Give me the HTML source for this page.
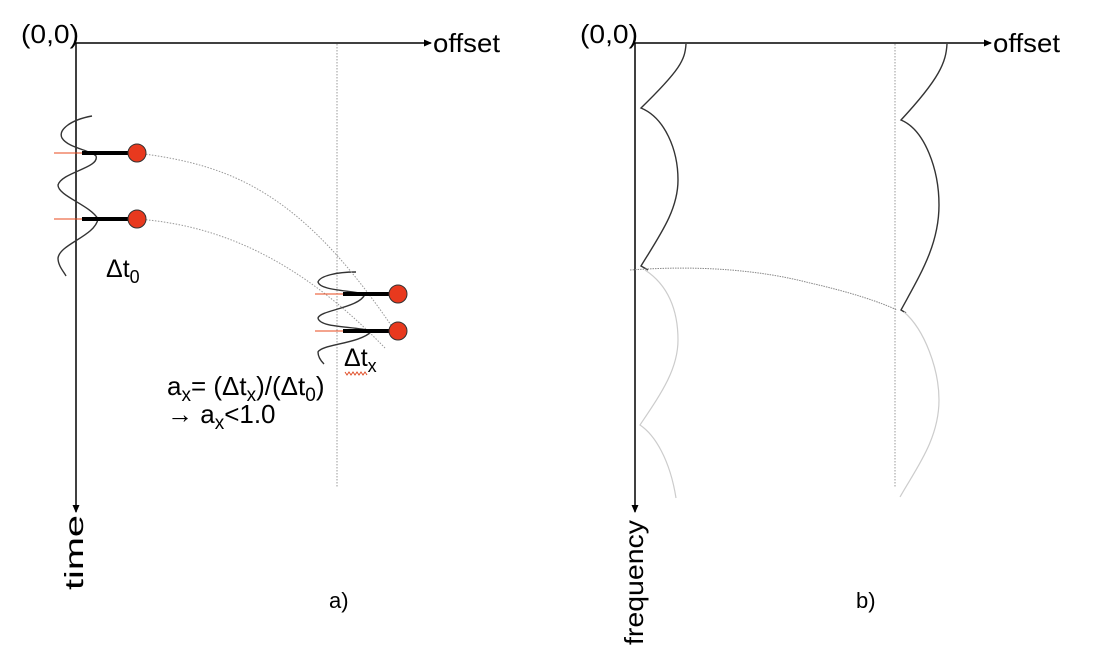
<!DOCTYPE html>
<html>
<head>
<meta charset="utf-8">
<style>
html,body{margin:0;padding:0;background:#fff;}
svg{display:block;font-family:"Liberation Sans",Arial,sans-serif;}
</style>
</head>
<body>
<svg id="fig" width="1100" height="660" viewBox="0 0 1100 660">
<defs>
<marker id="arr" markerWidth="8" markerHeight="8" refX="7" refY="4" orient="auto" markerUnits="userSpaceOnUse">
<path d="M0,0.5 L8,4 L0,7.5 Z" fill="#000"/>
</marker>
</defs>

<!-- Panel a -->
<g>
<text x="21" y="43" font-size="26" textLength="58" lengthAdjust="spacingAndGlyphs">(0,0)</text>
<line x1="75" y1="43" x2="431" y2="43" stroke="#000" stroke-width="1.5" marker-end="url(#arr)"/>
<text x="433" y="52" font-size="26" textLength="67" lengthAdjust="spacingAndGlyphs">offset</text>
<line x1="76" y1="43" x2="76" y2="512" stroke="#000" stroke-width="1.5" marker-end="url(#arr)"/>
<text transform="translate(83,590) rotate(-90)" font-size="26" textLength="75" lengthAdjust="spacingAndGlyphs">time</text>
<line x1="337" y1="44" x2="337" y2="488" stroke="#999" stroke-width="1" stroke-dasharray="1.5,1.5"/>

<path d="M92,116 C70,120 58,130 62,138 C68,148 90,150 96,156 C100,168 62,172 58,185 C58,196 90,205 98,219 C95,236 60,244 58,258 C58,266 64,272 66,276" fill="none" stroke="#333" stroke-width="1.4"/>
<path d="M356,272 C336,272 320,276 318,282 C320,290 345,290 365,294 C360,308 320,310 318,318 C320,328 352,326 372,331 C360,344 322,344 318,352 C318,358 322,362 324,364" fill="none" stroke="#333" stroke-width="1.4"/>

<path d="M137,153 C230,165 300,190 395,331" fill="none" stroke="#999" stroke-width="1" stroke-dasharray="1.5,1.5"/>
<path d="M137,219 C220,225 300,260 385,348" fill="none" stroke="#999" stroke-width="1" stroke-dasharray="1.5,1.5"/>

<g id="markers"></g>

<text x="106" y="277" font-size="25">Δt<tspan font-size="18" dy="6">0</tspan></text>
<text x="344" y="366" font-size="25">Δt<tspan font-size="18" dy="6">x</tspan></text>
<path d="M345,372 l2,3 l2,-3 l2,3 l2,-3 l2,3 l2,-3 l2,3 l2,-3 l2,3 l2,-3 l2,3" fill="none" stroke="#e0502a" stroke-width="1"/>
<text x="167" y="395" font-size="26">a<tspan font-size="19" dy="6">x</tspan><tspan dy="-6">= (Δt</tspan><tspan font-size="19" dy="6">x</tspan><tspan dy="-6">)/(Δt</tspan><tspan font-size="19" dy="6">0</tspan><tspan dy="-6">)</tspan></text>
<text x="167" y="423" font-size="26">→ a<tspan font-size="19" dy="6">x</tspan><tspan dy="-6">&lt;1.0</tspan></text>
<text x="329" y="608" font-size="22">a)</text>
</g>

<!-- Panel b -->
<g>
<text x="580" y="43" font-size="26" textLength="58" lengthAdjust="spacingAndGlyphs">(0,0)</text>
<line x1="635" y1="43" x2="991" y2="43" stroke="#000" stroke-width="1.5" marker-end="url(#arr)"/>
<text x="993" y="52" font-size="26" textLength="67" lengthAdjust="spacingAndGlyphs">offset</text>
<line x1="635" y1="43" x2="635" y2="512" stroke="#000" stroke-width="1.5" marker-end="url(#arr)"/>
<text transform="translate(643,645) rotate(-90)" font-size="26" textLength="125" lengthAdjust="spacingAndGlyphs">frequency</text>
<line x1="895" y1="44" x2="895" y2="488" stroke="#999" stroke-width="1" stroke-dasharray="1.5,1.5"/>

<path d="M686,44 C685,60 680,70 641,108 C665,118 678,150 678,180 C678,210 660,235 641,266 L648,270" fill="none" stroke="#333" stroke-width="1.4"/>
<path d="M645,270 C668,285 678,310 678,340 C678,370 660,395 640,425 C655,435 670,460 676,498" fill="none" stroke="#ccc" stroke-width="1.2"/>
<path d="M947,44 C946,62 940,78 901,120 C925,130 939,170 939,205 C939,245 920,275 901,310 L906,313" fill="none" stroke="#333" stroke-width="1.4"/>
<path d="M904,312 C925,330 939,370 939,400 C939,440 915,470 900,497" fill="none" stroke="#ccc" stroke-width="1.2"/>
<path d="M630,270 C700,265 760,270 810,283 C850,292 880,302 897,310" fill="none" stroke="#888" stroke-width="1" stroke-dasharray="1.5,1"/>
<text x="856" y="608" font-size="22">b)</text>
</g>

<script>
const wavelet0Times = [153, 219];
const waveletXTimes = [294, 331];
const traceOffsets = [76, 337];
function tScale(t){ return t; }
const ns = "http://www.w3.org/2000/svg";
const g = document.getElementById("markers");
function drawMarker(x0, t, i, tag){
  const y = tScale(t);
  const red = document.createElementNS(ns,"line");
  
  
  red.setAttribute("x1", x0-22); red.setAttribute("x2", x0+6);
  red.setAttribute("y1", y); red.setAttribute("y2", y);
  red.setAttribute("stroke", "#e84a1e"); red.setAttribute("stroke-width", "1");
  g.appendChild(red);
  const bar = document.createElementNS(ns,"line");
  
  
  bar.setAttribute("x1", x0+6); bar.setAttribute("x2", x0+61);
  bar.setAttribute("y1", y); bar.setAttribute("y2", y);
  bar.setAttribute("stroke", "#000"); bar.setAttribute("stroke-width", "4");
  g.appendChild(bar);
  const c = document.createElementNS(ns,"circle");
  
  
  c.setAttribute("cx", x0+61); c.setAttribute("cy", y); c.setAttribute("r", 9);
  c.setAttribute("fill", "#e8391e"); c.setAttribute("stroke", "#333"); c.setAttribute("stroke-width", "1");
  g.appendChild(c);
}
wavelet0Times.forEach((t,i)=>drawMarker(traceOffsets[0], t, i, 'near'));
waveletXTimes.forEach((t,i)=>drawMarker(traceOffsets[1], t, i, 'far'));
</script>
</svg>
</body>
</html>
